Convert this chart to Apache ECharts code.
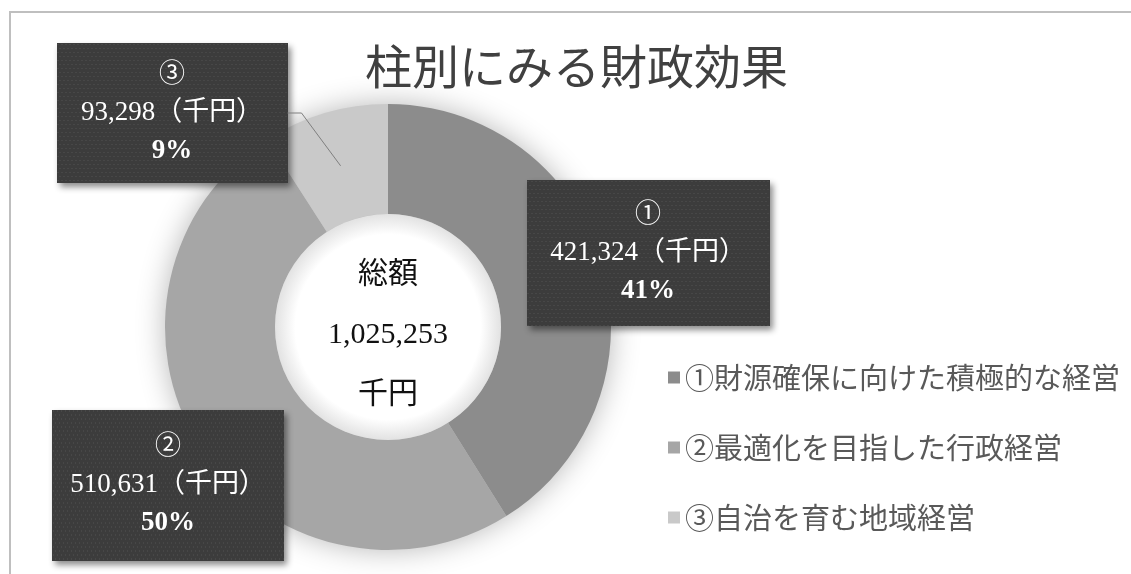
<!DOCTYPE html>
<html>
<head>
<meta charset="utf-8">
<title>柱別にみる財政効果</title>
<script src="https://cdn.jsdelivr.net/npm/echarts@6/dist/echarts.min.js"></script>
<style>
    html, body { margin: 0; padding: 0; background: #fff; }
    #main { width: 1131px; height: 574px; }
</style>
</head>
<body>
<div id="main"></div>
<script>
// data
var categories = ['①財源確保に向けた積極的な経営', '②最適化を目指した行政経営', '③自治を育む地域経営'];
var marks = ['①', '②', '③'];
var values = [421324, 510631, 93298];
var centerLines = ['総額', '1,025,253', '千円'];
var colors = ['#8c8c8c', '#a6a6a6', '#c9c9c9'];

// label boxes: center x, center y, width, height
var labelBox = [[648, 253, 243, 146], [168, 485, 232, 151], [172, 113, 231, 140]];

var pieCenter = [388, 327];
var pieRadius = [113, 223];
var serif = '"Liberation Serif", "Noto Sans CJK JP", serif';
var sans = '"Noto Sans CJK JP", sans-serif';

// dotted dark texture for the label boxes
function dotted(w, h) {
    var c = document.createElement('canvas');
    c.width = w;
    c.height = h;
    var ctx = c.getContext('2d');
    ctx.fillStyle = '#3c3c3c';
    ctx.fillRect(0, 0, w, h);
    ctx.fillStyle = '#525252';
    for (var y = 1; y < h; y += 4) {
        for (var x = (y % 8 === 1 ? 1 : 3); x < w; x += 4) {
            ctx.fillRect(x, y, 1, 1);
        }
    }
    return c;
}

// leader line for slice ③: from the middle of the ring to the box edge
function leader(idx) {
    var total = 0, before = 0;
    for (var j = 0; j < values.length; j++) {
        total += values[j];
        if (j < idx) before += values[j];
    }
    var mid = (before + values[idx] / 2) / total;
    var ang = (90 - mid * 360) * Math.PI / 180;
    var r = (pieRadius[0] + pieRadius[1]) / 2;
    var b = labelBox[idx];
    var edge = b[0] + b[2] / 2;
    return [
        [pieCenter[0] + r * Math.cos(ang), pieCenter[1] - r * Math.sin(ang)],
        [edge + 14, b[1]],
        [edge, b[1]]
    ];
}

var chart = echarts.init(document.getElementById('main'));

var pieData = [];
for (var i = 0; i < values.length; i++) {
    var b = labelBox[i];
    pieData.push({
        name: categories[i],
        value: values[i],
        itemStyle: { color: colors[i] },
        label: {
            width: b[2] - 16,
            padding: [(b[3] - 114) / 2, 8],
            backgroundColor: { image: dotted(b[2], b[3]) }
        }
    });
}

var centerText = centerLines.map(function (t, i) {
    return {
        type: 'text',
        x: pieCenter[0],
        y: pieCenter[1] - 52 + i * 60,
        z: 10,
        style: {
            text: t,
            align: 'center',
            verticalAlign: 'middle',
            fontSize: 30,
            fontFamily: serif,
            fill: '#111'
        }
    };
});

var option = {
    backgroundColor: '#ffffff',
    animation: false,
    title: {
        text: '柱別にみる財政効果',
        left: 360,
        top: 38,
        textStyle: {
            fontFamily: sans,
            fontWeight: 'normal',
            fontSize: 47,
            color: '#404040'
        }
    },
    legend: {
        orient: 'vertical',
        left: 663,
        top: 358,
        itemGap: 41,
        itemWidth: 12,
        itemHeight: 12,
        icon: 'rect',
        data: categories,
        textStyle: {
            fontFamily: sans,
            fontSize: 29,
            color: '#595959'
        }
    },
    graphic: [{
        type: 'rect',
        shape: { x: 10, y: 12, width: 1300, height: 800 },
        style: { fill: 'none', stroke: '#bfbfbf', lineWidth: 2 },
        z: 0
    }, {
        // soft shadow behind the ring
        type: 'circle',
        shape: { cx: pieCenter[0], cy: pieCenter[1], r: pieRadius[1] - 1 },
        style: { fill: '#bbb', shadowBlur: 30, shadowColor: 'rgba(0,0,0,0.3)' },
        z: 0
    }, {
        // inner white disc with faint edge shading
        type: 'circle',
        shape: { cx: pieCenter[0], cy: pieCenter[1], r: pieRadius[0] },
        style: {
            fill: {
                type: 'radial', x: 0.5, y: 0.5, r: 0.5,
                colorStops: [
                    { offset: 0, color: '#ffffff' },
                    { offset: 0.82, color: '#ffffff' },
                    { offset: 1, color: '#e2e2e2' }
                ]
            }
        },
        z: 5
    }, {
        type: 'polyline',
        shape: { points: leader(2) },
        style: { fill: 'none', stroke: '#7f7f7f', lineWidth: 1 },
        z: 6
    }].concat(centerText),
    series: [{
        name: '財政効果',
        type: 'pie',
        center: pieCenter,
        radius: pieRadius,
        startAngle: 90,
        clockwise: true,
        percentPrecision: 0,
        avoidLabelOverlap: false,
        emphasis: { disabled: true },
        data: pieData,
        label: {
            show: true,
            position: 'outside',
            overflow: 'none',
            shadowBlur: 6,
            shadowOffsetX: 3,
            shadowOffsetY: 4,
            shadowColor: 'rgba(0,0,0,0.45)',
            color: '#fff',
            align: 'center',
            formatter: function (p) {
                return '{n|' + marks[p.dataIndex] + '}\n{v|' + echarts.format.addCommas(p.value) +
                    '（千円）}\n{p|' + p.percent + '%}';
            },
            rich: {
                n: { fontFamily: serif, fontSize: 26, lineHeight: 38, color: '#fff', align: 'center' },
                v: { fontFamily: serif, fontSize: 27, lineHeight: 38, color: '#fff', align: 'center' },
                p: { fontFamily: serif, fontSize: 27, lineHeight: 38, color: '#fff', fontWeight: 'bold', align: 'center' }
            }
        },
        labelLine: { show: false },
        labelLayout: function (p) {
            var b = labelBox[p.dataIndex];
            return { x: b[0], y: b[1], align: 'center', verticalAlign: 'middle' };
        }
    }]
};

chart.setOption(option);
</script>
</body>
</html>
